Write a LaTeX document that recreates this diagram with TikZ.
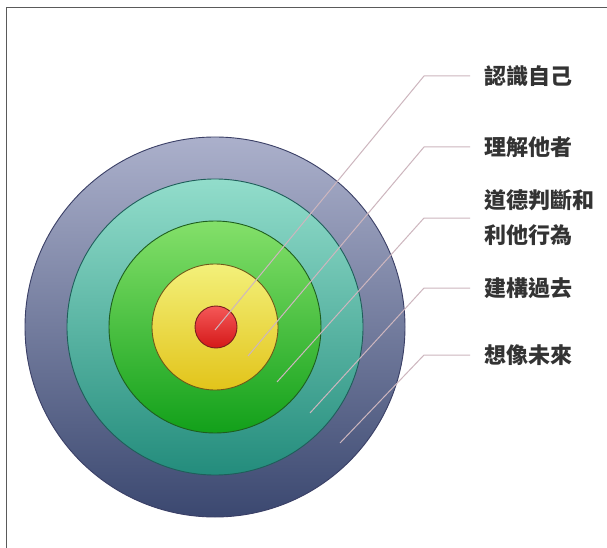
\documentclass[tikz,border=0pt]{standalone}
\usepackage{fontspec}
\newfontfamily\cjk{Noto Sans CJK TC}
\definecolor{framec}{HTML}{5A5A5A}
\definecolor{leadc}{HTML}{CDB6BE}
\definecolor{textc}{HTML}{333333}
\definecolor{o1t}{HTML}{ABB0CB}\definecolor{o1b}{HTML}{3B4870}\definecolor{o1d}{HTML}{3A3F66}
\definecolor{o2t}{HTML}{92DDCB}\definecolor{o2b}{HTML}{238C7C}\definecolor{o2d}{HTML}{1F5E5A}
\definecolor{o3t}{HTML}{84E06A}\definecolor{o3b}{HTML}{12A01A}\definecolor{o3d}{HTML}{1E5E1E}
\definecolor{o4t}{HTML}{F3F07A}\definecolor{o4b}{HTML}{E2C41A}\definecolor{o4d}{HTML}{6E5A1A}
\definecolor{o5t}{HTML}{F55858}\definecolor{o5b}{HTML}{D41818}\definecolor{o5d}{HTML}{7A1E1E}
\tikzset{
  ring/.style={circle, inner sep=0pt, line width=0.9pt},
  leader/.style={draw=leadc, line width=1pt},
  label/.style={anchor=west, inner xsep=14pt, inner ysep=0pt, text=textc,
    font=\cjk\bfseries\fontsize{22}{35}\selectfont, align=left},
}
\begin{document}
\begin{tikzpicture}[x=1pt,y=-1pt]
\useasboundingbox (0,0) rectangle (607,548);
\fill[white] (0,0) rectangle (607,548);
\draw[framec, line width=1pt] (607,8) -- (6,8) -- (6,548);
% rings
\node[ring, minimum size=380pt, top color=o1t, bottom color=o1b, draw=o1d] (r1) at (215,327) {};
\node[ring, minimum size=296pt, top color=o2t, bottom color=o2b, draw=o2d] (r2) at (215,327) {};
\node[ring, minimum size=212pt, top color=o3t, bottom color=o3b, draw=o3d] (r3) at (215,327) {};
\node[ring, minimum size=126pt, top color=o4t, bottom color=o4b, draw=o4d] (r4) at (215,327) {};
\node[ring, minimum size=42pt, top color=o5t, bottom color=o5b, draw=o5d] (r5) at (216,327) {};
% leader end points and knees
\coordinate (p1) at (215,330); \coordinate (k1) at (424,76);
\coordinate (p2) at (248,356); \coordinate (k2) at (424,147);
\coordinate (p3) at (277,382); \coordinate (k3) at (424,218);
\coordinate (p4) at (310,413); \coordinate (k4) at (424,288);
\coordinate (p5) at (340,443); \coordinate (k5) at (424,355);
% labels
\node[label] (l1) at (470,76) {認識自己};
\node[label] (l2) at (470,147) {理解他者};
\node[label] (l3) at (470,218) {道德判斷和\\利他行為};
\node[label] (l4) at (470,288) {建構過去};
\node[label] (l5) at (470,355) {想像未來};
% leaders
\draw[leader] (p1) -- (k1) -- (l1.west);
\draw[leader] (p2) -- (k2) -- (l2.west);
\draw[leader] (p3) -- (k3) -- (l3.west);
\draw[leader] (p4) -- (k4) -- (l4.west);
\draw[leader] (p5) -- (k5) -- (l5.west);
\end{tikzpicture}
\end{document}
